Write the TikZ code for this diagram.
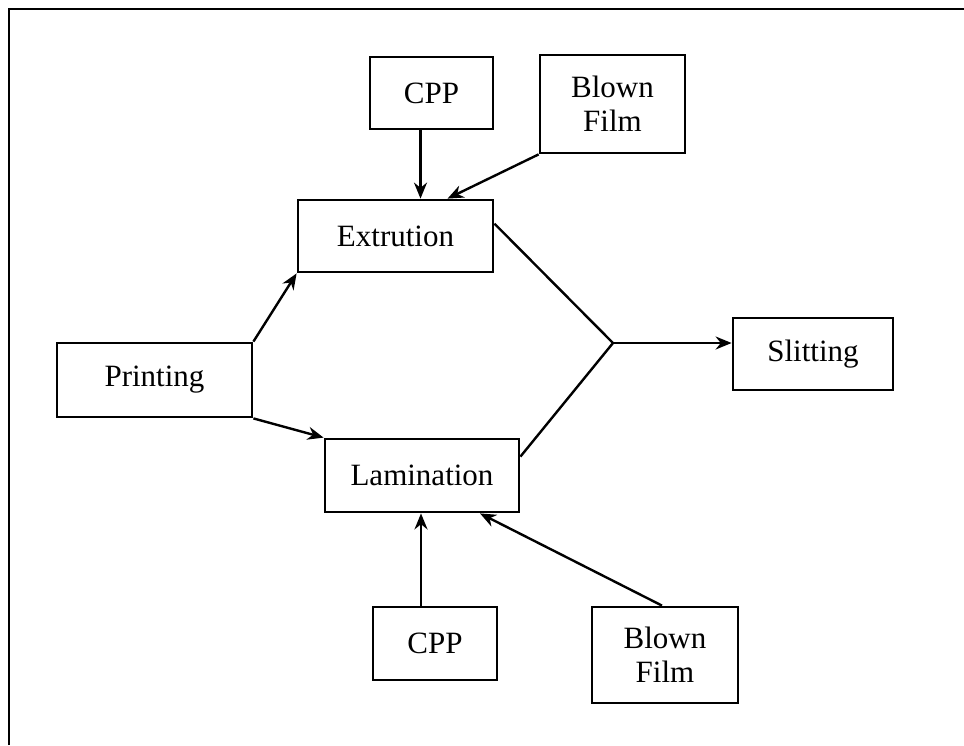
\documentclass[tikz,border=0pt]{standalone}
\usepackage{fontspec}
\setmainfont{Liberation Serif}
\usetikzlibrary{arrows.meta,calc}
\begin{document}
\begin{tikzpicture}[x=1pt,y=-1pt,
  procbox/.style={draw=black,line width=2.8pt,fill=white,inner sep=0pt,
    align=center,font=\fontsize{31}{36}\selectfont},
  flow/.style={line width=2.4pt,-{Stealth[length=16pt,width=13pt]}},
  plain/.style={line width=2.4pt}]
\useasboundingbox (0,0) rectangle (964,745);
% open frame: top and left sides only
\draw[line width=2.6pt] (9,745) -- (9,9) -- (964,9);

% process boxes
\node[procbox,minimum width=123pt,minimum height=72pt] (cppT)   at (431.5,93)  {CPP};
\node[procbox,minimum width=145pt,minimum height=98pt] (blownT) at (612.5,104) {Blown\\[-2pt]Film};
\node[procbox,minimum width=195pt,minimum height=72pt] (ext)    at (395.5,236) {Extrution};
\node[procbox,minimum width=195pt,minimum height=74pt] (print)  at (154.5,380) {Printing};
\node[procbox,minimum width=160pt,minimum height=72pt] (slit)   at (813,354)   {Slitting};
\node[procbox,minimum width=194pt,minimum height=73pt] (lam)    at (422,475.5) {Lamination};
\node[procbox,minimum width=124pt,minimum height=73pt] (cppB)   at (435,643.5) {CPP};
\node[procbox,minimum width=146pt,minimum height=96pt] (blownB) at (665,655)   {Blown\\[-2pt]Film};

% merge point before slitting
\coordinate (J) at (613,343);

% feeds into extrusion
\draw[flow] ([xshift=-11pt]cppT.south) -- ([xshift=-11pt]cppT.south |- ext.north);
\draw[flow] (blownT.south west) -- ([xshift=52pt]ext.north);
% printing splits to extrusion and lamination
\draw[flow] (print.north east) -- (ext.south west);
\draw[flow] (print.south east) -- (lam.north west);
% feeds into lamination
\draw[flow] ([xshift=-14pt]cppB.north) -- ([xshift=-14pt]cppB.north |- lam.south);
\draw[flow] ([xshift=-3pt]blownB.north) -- ([xshift=58pt]lam.south);
% both routes join and go to slitting
\draw[plain] ([yshift=-25pt]ext.north east) -- (J);
\draw[plain] ([yshift=-19pt]lam.north east) -- (J);
\draw[flow] (J) -- (J -| slit.west);
\end{tikzpicture}
\end{document}
